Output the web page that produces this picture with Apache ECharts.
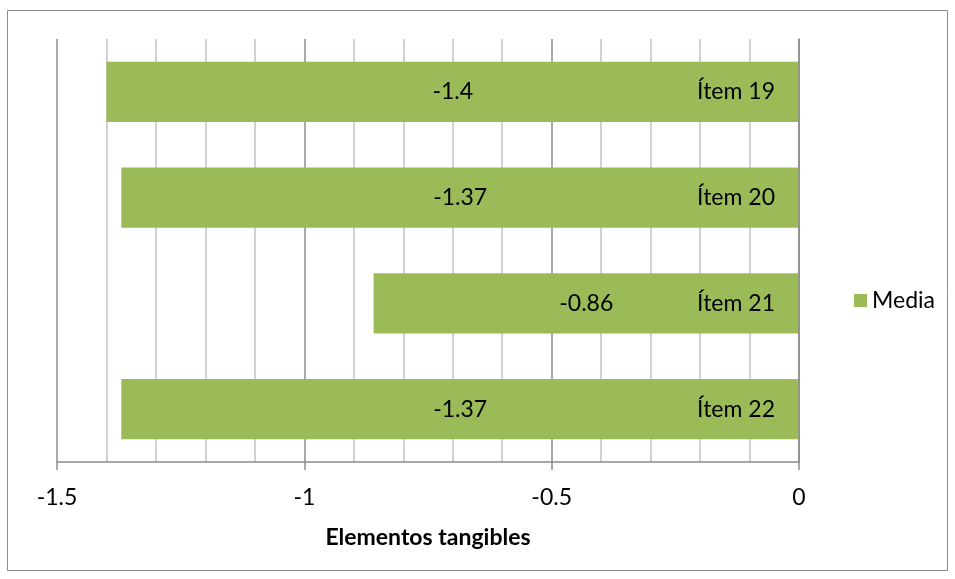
<!DOCTYPE html>
<html>
<head>
<meta charset="utf-8">
<script src="https://cdn.jsdelivr.net/npm/echarts@6/dist/echarts.min.js"></script>
<style>
  html, body { margin: 0; padding: 0; background: #fff; }
  #chart_box { width: 955px; height: 579px; }
</style>
</head>
<body>
<div id="chart_box"></div>
<script>
var categories = ['Ítem 19', 'Ítem 20', 'Ítem 21', 'Ítem 22']
var mediaValues = [-1.4, -1.37, -0.86, -1.37]
var seriesName = 'Media'
var axisTitle = 'Elementos tangibles'

var myChart = echarts.init(document.getElementById('chart_box'))
var fontName = 'Lato'
var fontSz = 23

var option = {
  animation: false,
  textStyle: { fontFamily: fontName },
  graphic: [
    {
      type: 'rect',
      shape: { x: 7.5, y: 10.5, width: 940, height: 560 },
      style: { fill: 'none', stroke: '#8c8c8c', lineWidth: 1 }
    }
  ],
  grid: { left: 57, right: 156, top: 39, bottom: 117 },
  legend: {
    data: [seriesName],
    left: 849,
    top: 284,
    icon: 'rect',
    itemWidth: 13,
    itemHeight: 13,
    itemGap: 8,
    textStyle: { fontSize: fontSz, color: '#000', fontFamily: fontName }
  },
  xAxis: {
    type: 'value',
    min: -1.5,
    max: 0,
    interval: 0.5,
    name: axisTitle,
    nameLocation: 'middle',
    nameGap: 64,
    nameTextStyle: { fontSize: fontSz, fontWeight: 'bold', color: '#000', fontFamily: fontName },
    axisLine: { show: true, lineStyle: { color: '#8c8c8c', width: 1.5 } },
    axisTick: { show: true, length: 8, lineStyle: { color: '#8c8c8c', width: 1.5 } },
    axisLabel: { fontSize: fontSz, color: '#000', margin: 24, fontFamily: fontName },
    splitLine: { show: true, lineStyle: { color: '#8c8c8c', width: 1.5 } },
    minorTick: { show: false, splitNumber: 5 },
    minorSplitLine: { show: true, lineStyle: { color: '#c4c4c4', width: 1.5 } }
  },
  yAxis: {
    type: 'category',
    data: categories,
    inverse: true,
    position: 'right',
    axisLine: { show: true, onZero: false, lineStyle: { color: '#8c8c8c', width: 1.5 } },
    axisTick: { show: false },
    axisLabel: { inside: true, margin: 24, fontSize: fontSz, color: '#000', fontFamily: fontName },
    splitLine: { show: false },
    z: 5
  },
  series: [
    {
      name: seriesName,
      type: 'bar',
      data: mediaValues,
      barWidth: '57%',
      itemStyle: { color: '#9bbb59' },
      label: {
        show: true,
        position: 'inside',
        fontSize: fontSz,
        color: '#000',
        fontFamily: fontName
      }
    }
  ]
}
option && myChart.setOption(option)
</script>
</body>
</html>
